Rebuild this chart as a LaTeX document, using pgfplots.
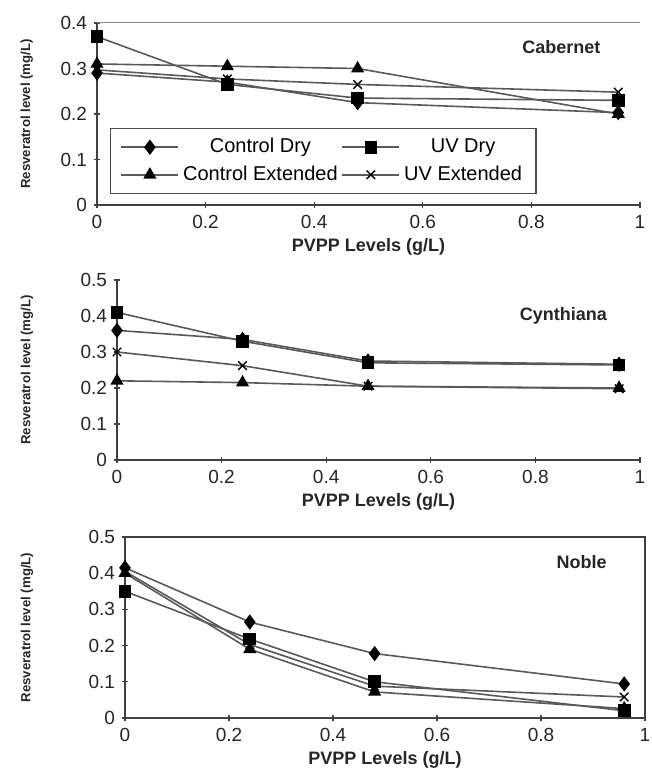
\documentclass[border=0pt]{standalone}
\usepackage{pgfplots}
\pgfplotsset{compat=1.18}
\usepackage{pgfplotstable}
\usepackage{fontspec}
\setmainfont{Liberation Sans}

\pgfplotstableread{
x cd ud ce ue
0 0.29 0.37 0.31 0.297
0.24 0.27 0.265 0.305 0.277
0.48 0.225 0.235 0.30 0.265
0.96 0.203 0.23 0.20 0.248
}\cab
\pgfplotstableread{
x cd ud ce ue
0 0.36 0.41 0.22 0.30
0.24 0.335 0.33 0.215 0.262
0.48 0.275 0.27 0.205 0.205
0.96 0.266 0.264 0.20 0.198
}\cyn
\pgfplotstableread{
x cd ud ce ue
0 0.415 0.35 0.40 0.405
0.24 0.265 0.218 0.19 0.203
0.48 0.178 0.10 0.072 0.088
0.96 0.094 0.02 0.026 0.058
}\nob

\definecolor{ln}{gray}{0.35}
\pgfplotsset{
  base/.style={
    scale only axis, anchor=south west,
    xmin=0, xmax=1, ymin=0,
    xtick={0,0.2,0.4,0.6,0.8,1},
    ytick distance=0.1,
    axis line style={black!75, line width=0.7pt},
    tick style={black!75, line width=0.6pt},
    tick align=center, major tick length=3pt,
    tick label style={font=\fontsize{9.5}{10}\selectfont, black!85},
    /pgf/number format/assume math mode=true,
    /pgf/number format/fixed, /pgf/number format/precision=1,
    xlabel={PVPP Levels (g/L)},
    ylabel={Resveratrol level (mg/L)},
    xlabel style={font=\fontsize{9}{10}\selectfont\bfseries, black!85, yshift=2pt},
    ylabel style={font=\fontsize{6.6}{7}\selectfont\bfseries, black!85},
    clip=false,
    every axis plot/.append style={line width=0.8pt, color=ln},
  },
  cd/.style={mark=diamond*, mark options={draw=black, fill=black, scale=1.6, solid}},
  ud/.style={mark=square*, mark options={draw=black, fill=black, scale=1.4, solid}},
  ce/.style={mark=triangle*, mark options={draw=black, fill=black, scale=1.5, solid}},
  ue/.style={mark=x, mark options={draw=black, scale=1.5, solid, line width=0.7pt}},
}

\begin{document}
\begin{tikzpicture}
\useasboundingbox (0pt,0pt) rectangle (326pt,391pt);

% Cabernet
\begin{axis}[base, at={(48.5pt,288.5pt)}, width=271.5pt, height=91pt, ymax=0.4,
  axis x line*=bottom, axis y line*=left,
  ylabel style={at={(axis description cs:-0.105,0.5)}},
  legend style={at={(rel axis cs:0.024,0.06)}, anchor=south west,
    draw=black!70, line width=0.6pt, font=\fontsize{10}{12}\selectfont,
    inner xsep=5pt, inner ysep=3pt, row sep=1pt},
  legend columns=2,
  legend image code/.code={\draw[mark repeat=2,mark phase=2] plot coordinates {(0cm,0cm) (0.5cm,0cm) (1cm,0cm)};},
  ]
\draw[black!45, line width=0.5pt] (rel axis cs:0,1) -- (rel axis cs:1,1);
\addplot[cd] table[x=x,y=cd]{\cab};
\addplot[ud] table[x=x,y=ud]{\cab};
\addplot[ce] table[x=x,y=ce]{\cab};
\addplot[ue] table[x=x,y=ue]{\cab};
\legend{Control Dry, UV Dry, Control Extended, UV Extended}
\node[anchor=east, font=\fontsize{9}{10}\selectfont\bfseries, black!85] at (rel axis cs:0.94,0.87) {Cabernet};
\end{axis}

% Cynthiana
\begin{axis}[base, at={(58.5pt,161pt)}, width=261.5pt, height=90pt, ymax=0.5,
  axis x line*=bottom, axis y line*=left,
  ylabel style={at={(axis description cs:-0.147,0.5)}},
  ]
\addplot[cd] table[x=x,y=cd]{\cyn};
\addplot[ud] table[x=x,y=ud]{\cyn};
\addplot[ce] table[x=x,y=ce]{\cyn};
\addplot[ue] table[x=x,y=ue]{\cyn};
\node[anchor=east, font=\fontsize{9}{10}\selectfont\bfseries, black!85] at (rel axis cs:0.95,0.8) {Cynthiana};
\end{axis}

% Noble
\begin{axis}[base, at={(62.5pt,32pt)}, width=260pt, height=90.5pt, ymax=0.5,
  xtick pos=bottom, ytick pos=left,
  ylabel style={at={(axis description cs:-0.163,0.5)}},
  ]
\addplot[cd] table[x=x,y=cd]{\nob};
\addplot[ud] table[x=x,y=ud]{\nob};
\addplot[ce] table[x=x,y=ce]{\nob};
\addplot[ue] table[x=x,y=ue]{\nob};
\node[anchor=east, font=\fontsize{9}{10}\selectfont\bfseries, black!85] at (rel axis cs:0.94,0.86) {Noble};
\end{axis}
\end{tikzpicture}
\end{document}
